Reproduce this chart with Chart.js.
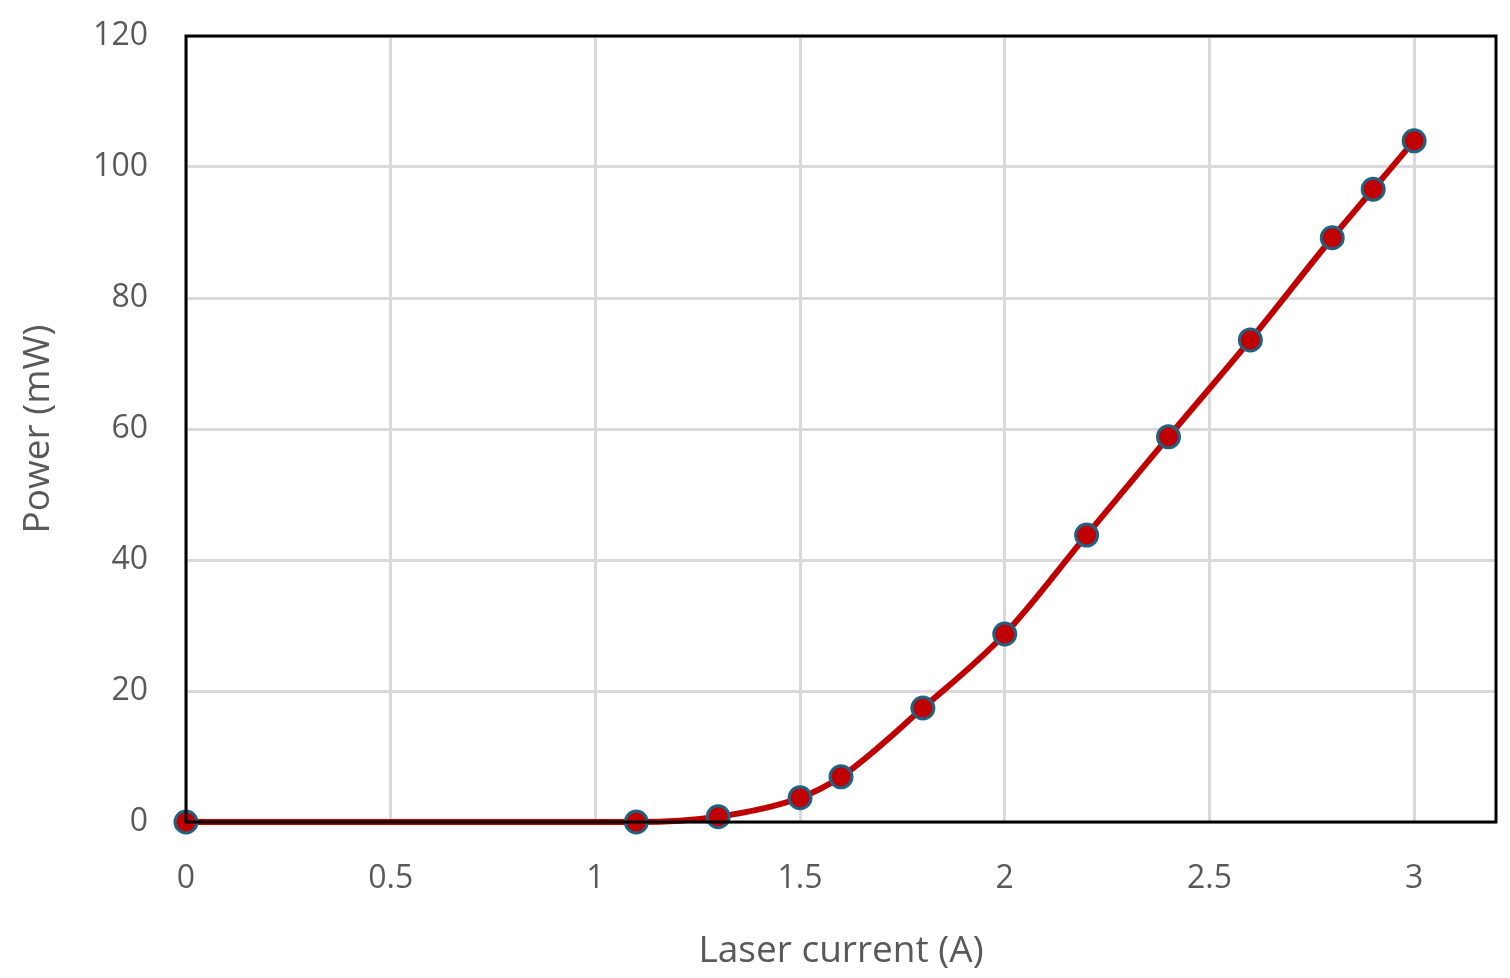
<!DOCTYPE html>
<html>
<head>
<meta charset="utf-8">
<script src="https://cdn.jsdelivr.net/npm/chart.js@4/dist/chart.umd.min.js"></script>
<style>
html,body{margin:0;padding:0;background:#fff}
#wrap{width:1510px;height:978px}
</style>
</head>
<body>
<div id="wrap"><canvas id="c"></canvas></div>
<script>
// laser current (A) vs output power (mW)
const corrente=[0,1.1,1.3,1.5,1.6,1.8,2.0,2.2,2.4,2.6,2.8,2.9,3.0];
const potencia=[0,0,0.8,3.7,6.9,17.4,28.7,43.8,58.8,73.6,89.2,96.6,104];
const xTicks=[0,0.5,1,1.5,2,2.5,3];
const yTicks=[0,20,40,60,80,100,120];
const xTitulo='Laser current (A)';
const yTitulo='Power (mW)';

const pontos=corrente.map((x,i)=>({x,y:potencia[i]}));
const cinza='#595959';
const fonte='"Open Sans", "Liberation Sans", sans-serif';

const moldura={id:'moldura',afterDatasetsDraw(ch){const a=ch.chartArea,g=ch.ctx;g.save();g.strokeStyle='#000';g.lineWidth=3;g.strokeRect(a.left,a.top,a.right-a.left,a.bottom-a.top);g.restore()}};

new Chart(document.getElementById('c'),{
  type:'scatter',
  data:{datasets:[{data:pontos,showLine:true,borderColor:'#c00000',borderWidth:6,cubicInterpolationMode:'monotone',
    pointRadius:11,pointHoverRadius:11,pointBackgroundColor:'#c00000',pointBorderColor:'#1f6384',pointBorderWidth:3,clip:false}]},
  options:{
    responsive:true,maintainAspectRatio:false,animation:false,
    layout:{padding:{left:0,right:8,top:36,bottom:0}},
    plugins:{legend:{display:false},tooltip:{enabled:false}},
    scales:{
      x:{type:'linear',min:0,max:3.2,
        afterBuildTicks:s=>{s.ticks=xTicks.map(v=>({value:v}))},
        afterFit:s=>{s.height=156;s.paddingLeft=0;s.paddingRight=0},
        ticks:{autoSkip:false,color:cinza,padding:38,font:{family:fonte,size:32},maxRotation:0,callback:v=>String(v)},
        grid:{color:'#d9d9d9',lineWidth:3,drawTicks:false},border:{display:false},
        title:{display:true,text:xTitulo,color:cinza,font:{family:fonte,size:37},padding:{top:12}}},
      y:{min:0,max:120,
        afterBuildTicks:s=>{s.ticks=yTicks.map(v=>({value:v}))},
        afterFit:s=>{s.width=186;s.paddingTop=0;s.paddingBottom=0},
        ticks:{autoSkip:false,color:cinza,padding:38,font:{family:fonte,size:32}},
        grid:{color:'#d9d9d9',lineWidth:3,drawTicks:false},border:{display:false},
        title:{display:true,text:yTitulo,color:cinza,font:{family:fonte,size:37},padding:{top:16,bottom:0}}}
    }
  },
  plugins:[moldura]
});
</script>
</body>
</html>
